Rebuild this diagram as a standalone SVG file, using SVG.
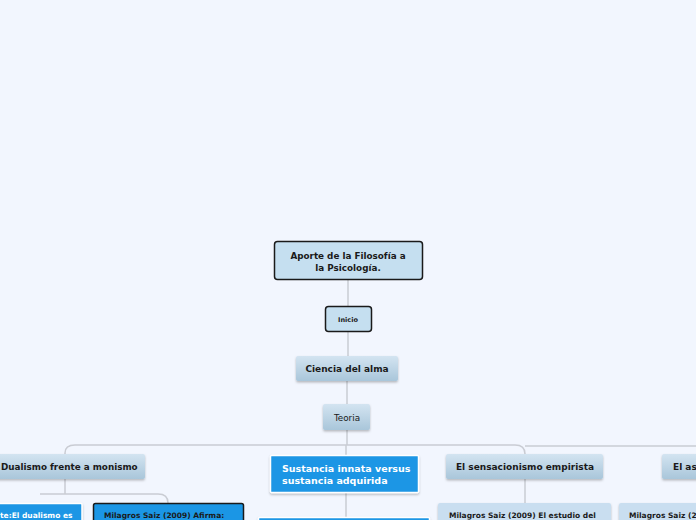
<svg xmlns="http://www.w3.org/2000/svg" width="696" height="520" viewBox="0 0 696 520">
<defs>
<linearGradient id="g" x1="0" y1="0" x2="0" y2="1">
<stop offset="0" stop-color="#d3e4f1"/>
<stop offset="1" stop-color="#a9c6da"/>
</linearGradient>
<filter id="sh" x="-10%" y="-20%" width="120%" height="150%">
<feDropShadow dx="0" dy="1.5" stdDeviation="1.2" flood-color="#000" flood-opacity="0.25"/>
</filter>
</defs>
<style>
text{font-family:"DejaVu Sans",Verdana,sans-serif;}
.b{font-weight:bold;}
.c{text-anchor:middle;}
.dark{fill:#1a1a1a;}
.w{fill:#ffffff;}
.main{fill:#c5dff0;stroke:#1a1a1a;stroke-width:1.5;}
.grad{fill:url(#g);filter:url(#sh);}
.blue{fill:#1b96e5;stroke:#ffffff;stroke-width:1.5;filter:url(#sh);}
.blueb{fill:#1b96e5;stroke:#1a1a1a;stroke-width:1.5;}
.light{fill:#c9def0;filter:url(#sh);}
.con{fill:none;stroke:#c9ccd3;stroke-width:1.5;}
</style>
<rect width="696" height="520" fill="#f2f6fe"/>
<g id="connectors">
<path class="con" d="M348 280 V306"/>
<path class="con" d="M348 332 V356"/>
<path class="con" d="M347 381 V404"/>
<path class="con" d="M347 430 V445"/>
<path class="con" d="M65 454 V453 Q65 445 75 445 H515 Q525 445 525 454"/>
<path class="con" d="M525 446 H700"/>
<path class="con" d="M346 445 V455"/>
<path class="con" d="M65 479 V494 M40 494 H158 Q168 494 168 503 M65 494 H40"/>
<path class="con" d="M346 493 V517"/>
<path class="con" d="M525 479 V503"/>
</g>
<g id="n-root">
<rect class="main" x="274.5" y="241.5" width="148" height="38" rx="3"/>
<text class="b c dark" x="348" y="259" font-size="8.8">Aporte de la Filosofía a</text>
<text class="b c dark" x="348" y="270.5" font-size="8.8">la Psicología.</text>
</g>
<g id="n-inicio">
<rect class="main" x="325.5" y="306.5" width="46" height="25" rx="3"/>
<text class="b c dark" x="348" y="322" font-size="6.5">Inicio</text>
</g>
<g id="n-ciencia">
<rect class="grad" x="296" y="356" width="102" height="25" rx="2"/>
<text class="b c dark" x="347" y="372" font-size="9">Ciencia del alma</text>
</g>
<g id="n-teoria">
<rect class="grad" x="323" y="404" width="47" height="26" rx="2"/>
<text class="c dark" x="347" y="420.5" font-size="8.8">Teoria</text>
</g>
<g id="n-dualismo">
<rect class="grad" x="-16" y="454" width="161" height="25" rx="2"/>
<text class="b dark" x="1" y="470" font-size="8.8">Dualismo frente a monismo</text>
</g>
<g id="n-sustancia">
<rect class="blue" x="270.5" y="455.5" width="148" height="37" rx="1"/>
<text class="b w" x="282" y="472" font-size="9.5">Sustancia innata versus</text>
<text class="b w" x="282" y="484" font-size="9.5">sustancia adquirida</text>
</g>
<g id="n-sensacionismo">
<rect class="grad" x="446" y="454" width="157" height="25" rx="2"/>
<text class="b c dark" x="525" y="470" font-size="9">El sensacionismo empirista</text>
</g>
<g id="n-asoc">
<rect class="grad" x="662" y="454" width="120" height="25" rx="2"/>
<text class="b dark" x="673" y="470" font-size="9">El as</text>
</g>
<g id="n-dual-left">
<rect class="blue" x="-20" y="503.5" width="102" height="30" rx="1"/>
<text class="b w" x="0" y="518" font-size="7.5">te:El dualismo es</text>
</g>
<g id="n-dual-saiz">
<rect class="blueb" x="93.5" y="503.5" width="150" height="30" rx="2"/>
<text class="b dark" x="104" y="518" font-size="7.5">Milagros Saiz (2009) Afirma:</text>
</g>
<g id="n-sust-child">
<rect class="blue" x="258.5" y="517.5" width="171" height="20" rx="1"/>
</g>
<g id="n-sens-saiz">
<rect class="light" x="438" y="503" width="173" height="30" rx="2"/>
<text class="b dark" x="449" y="518" font-size="7.5">Milagros Saiz (2009) El estudio del</text>
</g>
<g id="n-asoc-saiz">
<rect class="light" x="619" y="503" width="120" height="30" rx="2"/>
<text class="b dark" x="629" y="518" font-size="7.5">Milagros Saiz (2</text>
</g>
</svg>
